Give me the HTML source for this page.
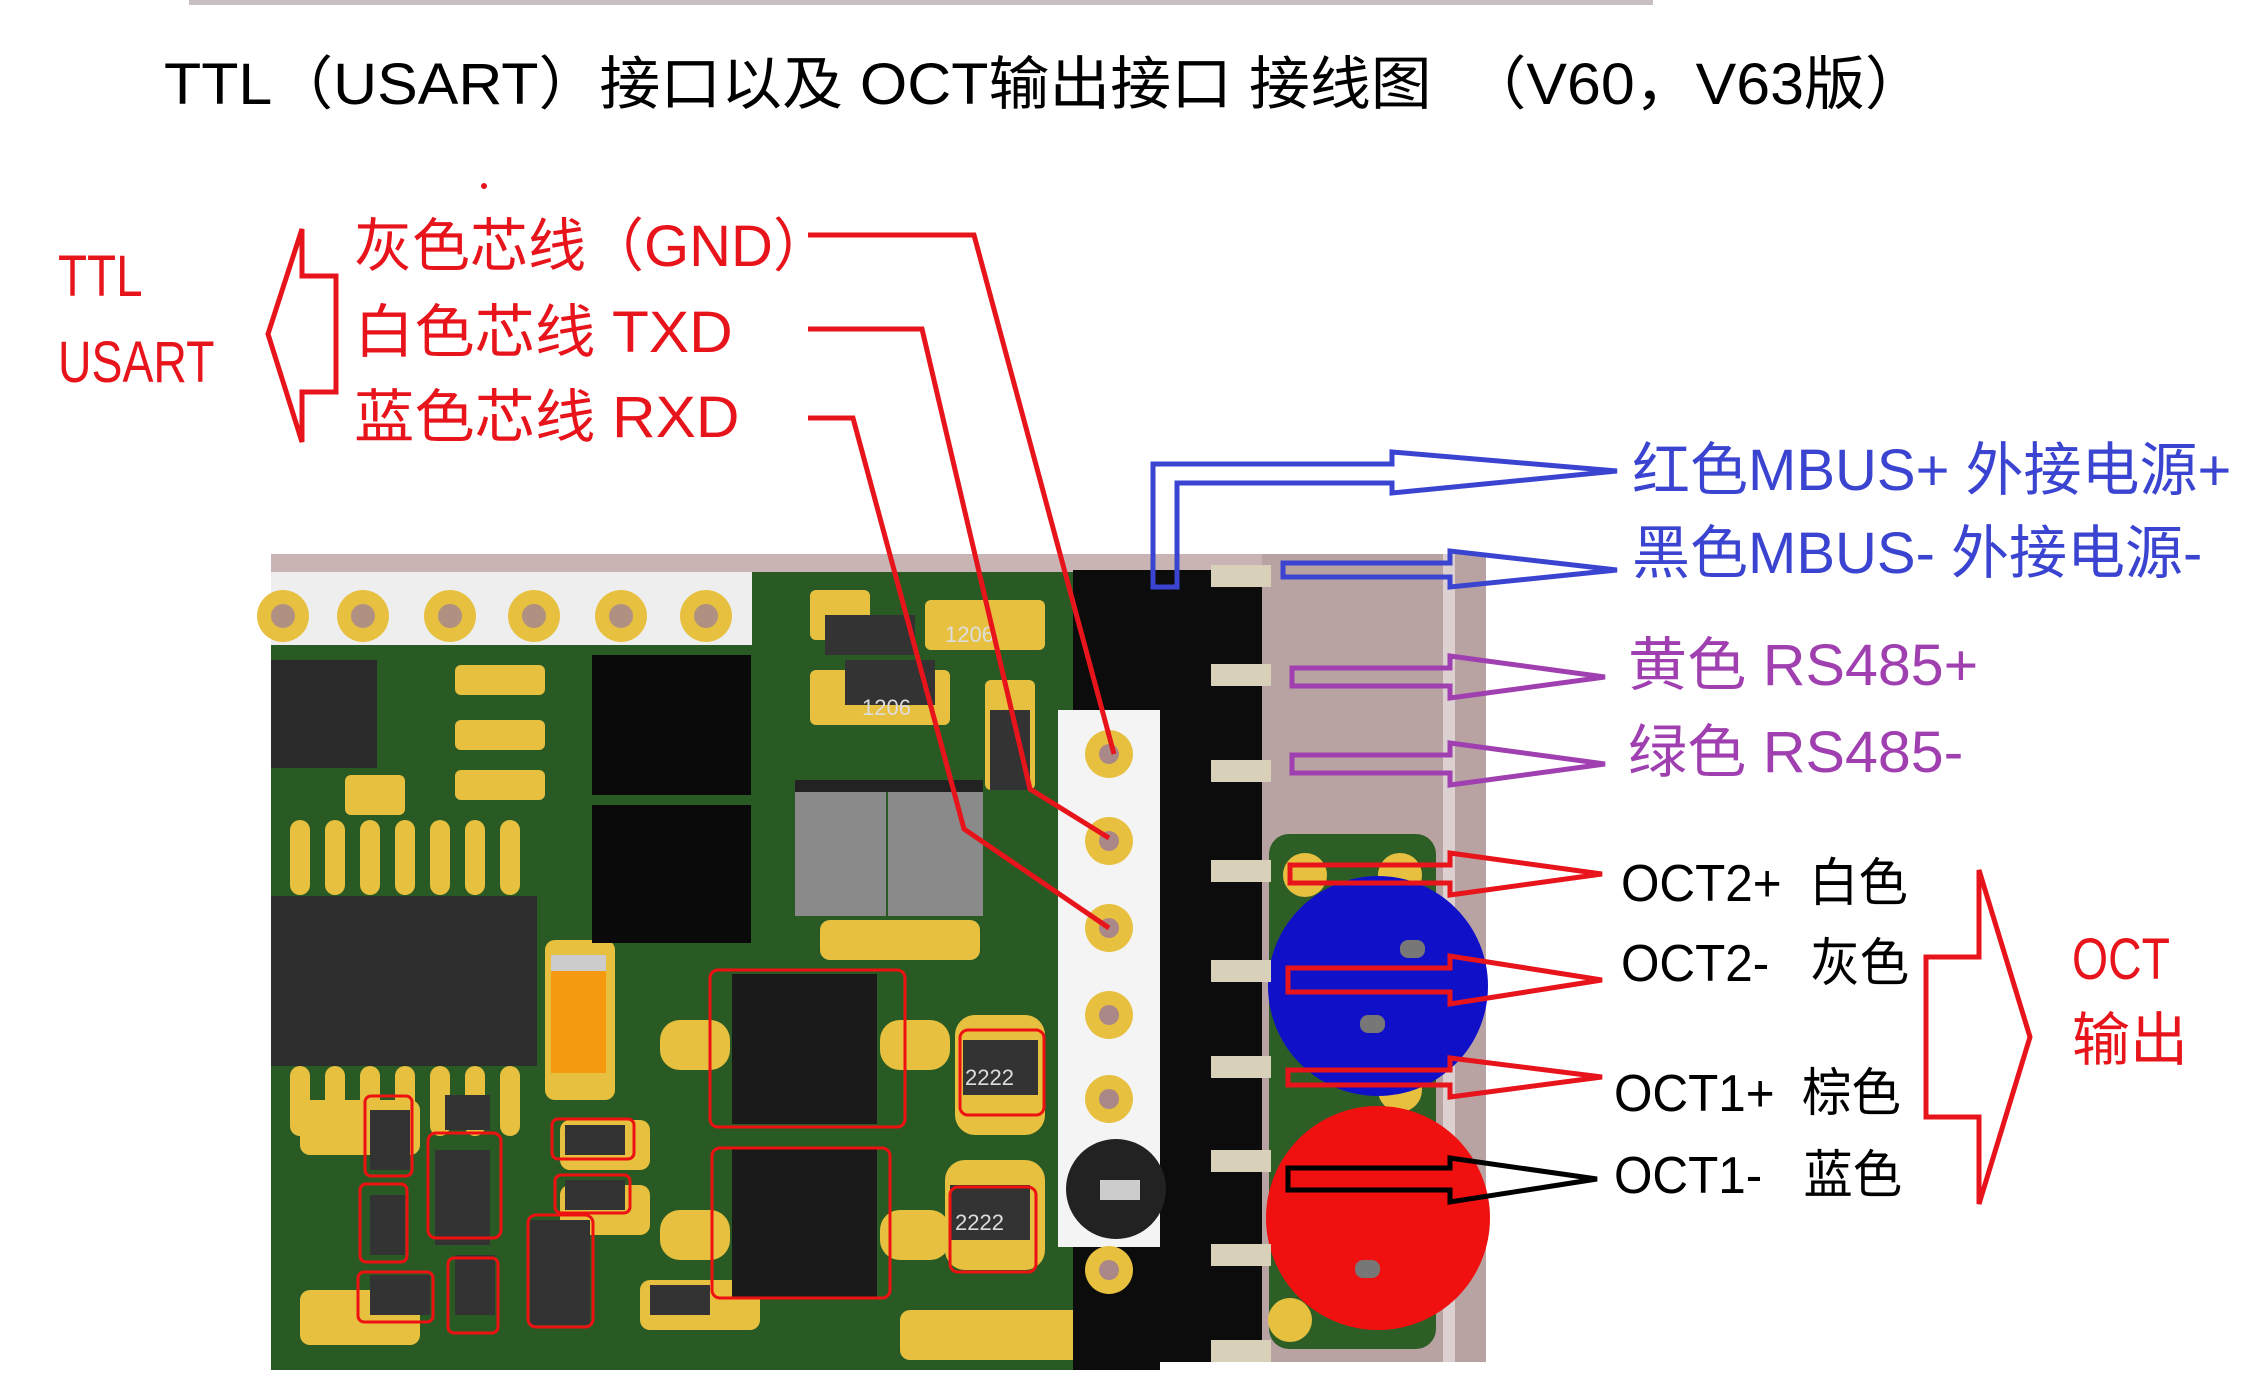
<!DOCTYPE html>
<html><head><meta charset="utf-8">
<style>
body{margin:0;width:2248px;height:1400px;overflow:hidden;background:#fff;position:relative;font-family:"Liberation Sans","Noto Sans CJK SC",sans-serif}
svg{position:absolute;left:0;top:0}
.t{position:absolute;white-space:nowrap;line-height:1;transform-origin:0 50%}
</style></head><body>
<svg width="2248" height="1400" viewBox="0 0 2248 1400">
<rect x="189" y="0" width="1464" height="5" fill="#c8c0c0"/>
<rect x="271" y="554" width="1215" height="816" fill="#2a5a24"/>
<rect x="271" y="554" width="1215" height="18" fill="#c9b3b3"/>
<rect x="271" y="572" width="481" height="73" fill="#eeeeee"/>
<g fill="#e8c040"><circle cx="283" cy="616" r="26"/><circle cx="363" cy="616" r="26"/><circle cx="450" cy="616" r="26"/><circle cx="534" cy="616" r="26"/><circle cx="621" cy="616" r="26"/><circle cx="706" cy="616" r="26"/></g>
<g fill="#b09080"><circle cx="283" cy="616" r="12"/><circle cx="363" cy="616" r="12"/><circle cx="450" cy="616" r="12"/><circle cx="534" cy="616" r="12"/><circle cx="621" cy="616" r="12"/><circle cx="706" cy="616" r="12"/></g>
<g fill="#e8c040">
<rect x="290" y="820" width="20" height="75" rx="10"/><rect x="325" y="820" width="20" height="75" rx="10"/><rect x="360" y="820" width="20" height="75" rx="10"/><rect x="395" y="820" width="20" height="75" rx="10"/><rect x="430" y="820" width="20" height="75" rx="10"/><rect x="465" y="820" width="20" height="75" rx="10"/><rect x="500" y="820" width="20" height="75" rx="10"/>
<rect x="290" y="1066" width="20" height="70" rx="10"/><rect x="325" y="1066" width="20" height="70" rx="10"/><rect x="360" y="1066" width="20" height="70" rx="10"/><rect x="395" y="1066" width="20" height="70" rx="10"/><rect x="430" y="1066" width="20" height="70" rx="10"/><rect x="465" y="1066" width="20" height="70" rx="10"/><rect x="500" y="1066" width="20" height="70" rx="10"/>
<rect x="455" y="665" width="90" height="30" rx="6"/><rect x="455" y="720" width="90" height="30" rx="6"/><rect x="455" y="770" width="90" height="30" rx="6"/><rect x="345" y="775" width="60" height="40" rx="6"/>
<rect x="810" y="590" width="60" height="50" rx="6"/><rect x="925" y="600" width="120" height="50" rx="6"/><rect x="810" y="670" width="140" height="55" rx="6"/><rect x="985" y="680" width="50" height="110" rx="6"/>
<rect x="660" y="1020" width="70" height="50" rx="20"/><rect x="880" y="1020" width="70" height="50" rx="20"/><rect x="660" y="1210" width="70" height="50" rx="20"/><rect x="880" y="1210" width="70" height="50" rx="20"/>
<rect x="955" y="1015" width="90" height="120" rx="20"/><rect x="945" y="1160" width="100" height="110" rx="20"/>
<rect x="545" y="940" width="70" height="160" rx="10"/><rect x="560" y="1120" width="90" height="50" rx="10"/><rect x="560" y="1185" width="90" height="50" rx="10"/>
<rect x="300" y="1100" width="120" height="55" rx="10"/><rect x="300" y="1290" width="120" height="55" rx="10"/><rect x="640" y="1280" width="120" height="50" rx="10"/><rect x="900" y="1310" width="200" height="50" rx="10"/>
<rect x="820" y="920" width="160" height="40" rx="10"/>
</g>
<rect x="271" y="660" width="106" height="108" fill="#2a2a2a"/>
<rect x="271" y="896" width="266" height="170" fill="#2d2d2d"/>
<rect x="592" y="655" width="159" height="140" fill="#0a0a0a"/><rect x="592" y="805" width="159" height="138" fill="#0a0a0a"/>
<rect x="795" y="780" width="91" height="136" fill="#8a8a8a"/><rect x="888" y="780" width="95" height="136" fill="#8a8a8a"/>
<rect x="795" y="780" width="188" height="12" fill="#222"/>
<rect x="551" y="969" width="55" height="104" fill="#f59a10"/><rect x="551" y="955" width="55" height="16" fill="#ccc"/>
<rect x="732" y="974" width="145" height="150" fill="#1a1a1a"/><rect x="732" y="1148" width="145" height="150" fill="#1a1a1a"/>
<g fill="#333"><rect x="825" y="615" width="90" height="40"/><rect x="845" y="660" width="90" height="45"/><rect x="990" y="710" width="40" height="80"/><rect x="963" y="1040" width="75" height="55"/><rect x="950" y="1185" width="80" height="55"/>
<rect x="435" y="1150" width="55" height="95"/><rect x="530" y="1220" width="60" height="105"/><rect x="370" y="1110" width="40" height="60"/><rect x="370" y="1195" width="35" height="60"/><rect x="370" y="1275" width="60" height="40"/><rect x="455" y="1255" width="40" height="60"/><rect x="565" y="1125" width="60" height="30"/><rect x="565" y="1180" width="60" height="30"/><rect x="445" y="1095" width="45" height="35"/><rect x="650" y="1285" width="60" height="30"/></g>
<g fill="none" stroke="#e11" stroke-width="3"><rect x="710" y="970" width="195" height="157" rx="8"/><rect x="712" y="1148" width="178" height="150" rx="8"/><rect x="960" y="1030" width="84" height="85" rx="8"/><rect x="950" y="1187" width="86" height="85" rx="8"/>
<rect x="365" y="1096" width="47" height="80" rx="6"/><rect x="360" y="1184" width="47" height="78" rx="6"/><rect x="428" y="1133" width="73" height="105" rx="8"/><rect x="528" y="1215" width="65" height="112" rx="8"/><rect x="358" y="1272" width="75" height="50" rx="6"/><rect x="448" y="1258" width="50" height="75" rx="6"/><rect x="552" y="1119" width="82" height="40" rx="6"/><rect x="555" y="1175" width="75" height="38" rx="6"/></g>
<g fill="#ddd" font-family="Liberation Sans" font-size="22"><text x="945" y="642">1206</text><text x="862" y="715">1206</text><text x="965" y="1085">2222</text><text x="955" y="1230">2222</text></g>
<rect x="1073" y="570" width="190" height="800" fill="#0c0c0c"/>
<rect x="1058" y="710" width="102" height="537" fill="#f4f4f4"/>
<g fill="#e8c040"><circle cx="1109" cy="754" r="24"/><circle cx="1109" cy="841" r="24"/><circle cx="1109" cy="928" r="24"/><circle cx="1109" cy="1015" r="24"/><circle cx="1109" cy="1099" r="24"/><circle cx="1109" cy="1270" r="24"/></g>
<g fill="#a88"><circle cx="1109" cy="754" r="10"/><circle cx="1109" cy="841" r="10"/><circle cx="1109" cy="928" r="10"/><circle cx="1109" cy="1015" r="10"/><circle cx="1109" cy="1099" r="10"/><circle cx="1109" cy="1270" r="10"/></g>
<circle cx="1116" cy="1189" r="50" fill="#222"/><rect x="1100" y="1180" width="40" height="20" fill="#ccc"/>
<rect x="1262" y="554" width="224" height="816" fill="#b9a2a2"/>
<rect x="1443" y="554" width="12" height="816" fill="#ddd0d0"/>
<rect x="1269" y="834" width="167" height="515" rx="20" fill="#2d5e26"/>
<g fill="#e8c040"><circle cx="1305" cy="875" r="22"/><circle cx="1400" cy="875" r="22"/><circle cx="1400" cy="1090" r="22"/><circle cx="1290" cy="1320" r="22"/></g>
<circle cx="1378" cy="986" r="110" fill="#1010c8"/><circle cx="1378" cy="1218" r="112" fill="#f01010"/>
<g fill="#777"><rect x="1400" y="940" width="25" height="18" rx="8"/><rect x="1360" y="1015" width="25" height="18" rx="8"/><rect x="1355" y="1260" width="25" height="18" rx="8"/></g>
<g fill="#d8d0b8"><rect x="1211" y="565" width="60" height="22"/><rect x="1211" y="664" width="60" height="22"/><rect x="1211" y="760" width="60" height="22"/><rect x="1211" y="860" width="60" height="22"/><rect x="1211" y="960" width="60" height="22"/><rect x="1211" y="1056" width="60" height="22"/><rect x="1211" y="1150" width="60" height="22"/><rect x="1211" y="1244" width="60" height="22"/><rect x="1211" y="1340" width="60" height="22"/></g>
<rect x="1160" y="1362" width="330" height="38" fill="#fff"/>
<polygon points="302,229 268,334 302,442 302,392 336,392 336,276 302,276" fill="none" stroke="#e8141c" stroke-width="5"/>
<g fill="none" stroke="#e8141c" stroke-width="5">
<polyline points="808,235 974,235 1114,754"/>
<polyline points="808,329 922,329 1030,789 1109,838"/>
<polyline points="808,418 853,418 964,829 1109,928"/>
</g>
<circle cx="484" cy="186" r="3" fill="#e8141c"/>
<g fill="none" stroke="#3a44d0" stroke-width="5">
<polygon points="1153,587 1153,464 1392,464 1392,452 1617,471 1392,493 1392,483 1177,483 1177,587"/>
<polygon points="1283,563 1450,563 1450,551 1617,570 1450,587 1450,577 1283,577"/>
</g>
<g fill="none" stroke="#a040b0" stroke-width="5">
<polygon points="1292,668 1450,668 1450,656 1605,677 1450,698 1450,686 1292,686"/>
<polygon points="1292,755 1450,755 1450,743 1605,764 1450,785 1450,773 1292,773"/>
</g>
<g fill="none" stroke="#e8141c" stroke-width="5">
<polygon points="1290,865 1450,865 1450,853 1602,874 1450,895 1450,883 1290,883"/>
<polygon points="1288,968 1450,968 1450,956 1602,980 1450,1004 1450,992 1288,992"/>
<polygon points="1288,1070 1450,1070 1450,1058 1602,1077 1450,1097 1450,1085 1288,1085"/>
</g>
<polygon points="1288,1168 1450,1168 1450,1158 1597,1179 1450,1202 1450,1190 1288,1190" fill="none" stroke="#000" stroke-width="5"/>
<polygon points="1926,957 1979,957 1979,870 2030,1037 1979,1204 1979,1117 1926,1117" fill="none" stroke="#e8141c" stroke-width="5"/>
</svg>
<div class="t" style="left:164px;top:56px;font-size:58px;transform:scaleX(1.05)">TTL（USART）接口以及 OCT输出接口 接线图 &nbsp;（V60，V63版）</div>
<div class="t" style="left:58px;top:248px;font-size:58px;color:#e8141c;transform:scaleX(0.82)">TTL</div>
<div class="t" style="left:58px;top:334px;font-size:58px;color:#e8141c;transform:scaleX(0.8)">USART</div>
<div class="t" style="left:354px;top:218px;font-size:58px;color:#e8141c;transform:scaleX(1.0)">灰色芯线（GND）</div>
<div class="t" style="left:354px;top:304px;font-size:58px;color:#e8141c;transform:scaleX(1.04)">白色芯线 TXD</div>
<div class="t" style="left:354px;top:389px;font-size:58px;color:#e8141c;transform:scaleX(1.04)">蓝色芯线 RXD</div>
<div class="t" style="left:1632px;top:442px;font-size:58px;color:#3a44d0;transform:scaleX(1.0)">红色MBUS+ 外接电源+</div>
<div class="t" style="left:1632px;top:525px;font-size:58px;color:#3a44d0;transform:scaleX(1.0)">黑色MBUS- 外接电源-</div>
<div class="t" style="left:1628px;top:637px;font-size:58px;color:#a040b0;transform:scaleX(1.02)">黄色 RS485+</div>
<div class="t" style="left:1628px;top:724px;font-size:58px;color:#a040b0;transform:scaleX(1.02)">绿色 RS485-</div>
<div class="t" style="left:1621px;top:858px;font-size:52px;transform:scaleX(0.95)">OCT2+&nbsp; 白色</div>
<div class="t" style="left:1621px;top:938px;font-size:52px;transform:scaleX(0.95)">OCT2-&nbsp;&nbsp; 灰色</div>
<div class="t" style="left:1614px;top:1068px;font-size:52px;transform:scaleX(0.95)">OCT1+&nbsp; 棕色</div>
<div class="t" style="left:1614px;top:1150px;font-size:52px;transform:scaleX(0.95)">OCT1-&nbsp;&nbsp; 蓝色</div>
<div class="t" style="left:2072px;top:931px;font-size:58px;color:#e8141c;transform:scaleX(0.8)">OCT</div>
<div class="t" style="left:2072px;top:1012px;font-size:58px;color:#e8141c;transform:scaleX(1.0)">输出</div>
</body></html>
